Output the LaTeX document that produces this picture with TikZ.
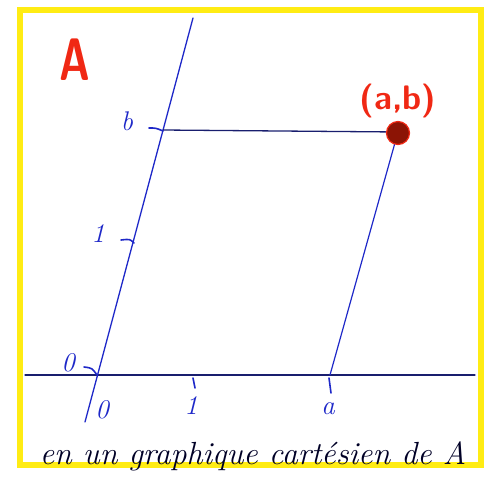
\documentclass[tikz,border=0pt]{standalone}
\usepackage{fontspec}
\usepackage{tikz}
\usetikzlibrary{arrows.meta, positioning, calc}

\definecolor{markyellow}{RGB}{255,236,20}
\definecolor{penblue}{RGB}{30,40,200}
\definecolor{inkblue}{RGB}{25,30,110}
\definecolor{markred}{RGB}{240,40,20}
\definecolor{dotred}{RGB}{140,20,5}

\begin{document}
\begin{tikzpicture}[x=1pt, y=-1pt, line cap=round,
  lbl/.style={font=\fontsize{27}{29}\selectfont\itshape, text=penblue, inner sep=0pt},
  tick/.style={penblue, line width=1.6pt}]
  \useasboundingbox (0,0) rectangle (495,499);
  % Frame
  \draw[markyellow, line width=6pt] (20,10) rectangle (481,465);
  % Title
  \node[font=\fontsize{60}{62}\sffamily\bfseries\selectfont, text=markred, xscale=0.7] (title) at (75,60) {A};
  % Axes
  \coordinate (xl) at (25,375);
  \coordinate (xr) at (475,375);
  \coordinate (ylow) at (85,422);
  \coordinate (yhigh) at (193,18);
  \coordinate (O) at (97,375);
  \draw[inkblue, line width=1.3pt] (xl) -- (xr);
  \draw[penblue, line width=1.3pt] (ylow) -- (yhigh);
  % Point (a,b)
  \coordinate (a) at (330,375);
  \coordinate (b) at (163,130);
  \draw[inkblue, line width=1.3pt] (b) -- (398,132);
  \draw[penblue, line width=1.2pt] (a) -- (398,132);
  \node[circle, draw=markred, fill=dotred, line width=1.2pt, minimum size=23pt, inner sep=0pt] (P) at (398,133) {};
  \node[font=\fontsize{34}{36}\sffamily\bfseries\selectfont, text=markred] (Plbl) at (398,101) {(a,b)};
  % Ticks on the horizontal axis
  \draw[tick] (193,378) -- (195,388);
  \draw[tick] (329,378) -- (331,393);
  % Ticks on the oblique axis
  \draw[tick] (84,367) .. controls (92,368) .. (97,375);
  \draw[tick] (121,240) .. controls (130,239) .. (134,243);
  \draw[tick] (149,128) .. controls (156,128) .. (163,131);
  % Labels
  \node[lbl] (x0) at (102,410) {0};
  \node[lbl] (x1) at (191,406) {1};
  \node[lbl] (xa) at (328,409) {a};
  \node[lbl] (y0) at (68,363) {0};
  \node[lbl] (y1) at (98,234) {1};
  \node[lbl] (yb) at (127,121) {b};
  % Caption
  \node[font=\fontsize{32}{34}\selectfont\itshape, text=black!85!blue, anchor=base] (caption) at (253,464) {en un graphique cartésien de A};
\end{tikzpicture}
\end{document}
